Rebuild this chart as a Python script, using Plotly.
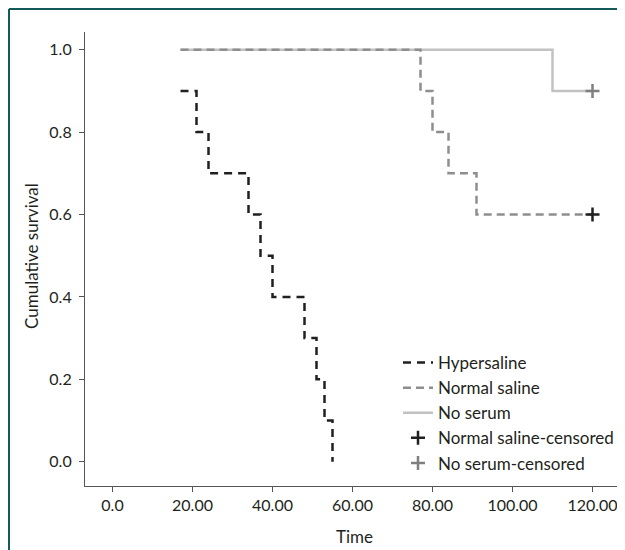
import plotly.graph_objects as go

# ---- data ----
hyper_time = [17, 21, 24, 34, 37, 40, 48, 51, 53, 55]
hyper_surv = [0.9, 0.8, 0.7, 0.6, 0.5, 0.4, 0.3, 0.2, 0.1, 0.0]

normal_time = [17, 77, 80, 84, 91, 120]
normal_surv = [1.0, 0.9, 0.8, 0.7, 0.6, 0.6]

noserum_time = [17, 110, 120]
noserum_surv = [1.0, 0.9, 0.9]

normal_cens_time = [120]
normal_cens_surv = [0.6]
noserum_cens_time = [120]
noserum_cens_surv = [0.9]

x_tickvals = [0, 20, 40, 60, 80, 100, 120]
x_ticktext = ["0.0", "20.00", "40.00", "60.00", "80.00", "100.00", "120.00"]
y_tickvals = [0.0, 0.2, 0.4, 0.6, 0.8, 1.0]
y_ticktext = ["0.0", "0.2", "0.4", "0.6", "0.8", "1.0"]

FONT = "Lato"
TXT = "#231f20"

OFF = 8  # default page body margin
PAGE_W, PAGE_H = 625, 550
W, H = PAGE_W - OFF, PAGE_H - OFF
# plot area in page pixels
P_LEFT, P_RIGHT, P_TOP, P_BOTTOM = 85, PAGE_W, 32, 486
ML, MR, MT, MB = P_LEFT - OFF, 0, P_TOP - OFF, H - (P_BOTTOM - OFF)


def px_x(px):  # page px -> paper
    return (px - P_LEFT) / (P_RIGHT - P_LEFT)


def px_y(py):
    return (P_BOTTOM - py) / (P_BOTTOM - P_TOP)


fig = go.Figure()

fig.add_trace(go.Scatter(
    x=noserum_time, y=noserum_surv, mode="lines", line_shape="hv",
    name="No serum", legendrank=3,
    line=dict(color="#c2c2c2", width=2.5)))

fig.add_trace(go.Scatter(
    x=normal_time, y=normal_surv, mode="lines", line_shape="hv",
    name="Normal saline", legendrank=2,
    line=dict(color="#8e8e8e", width=2.5, dash="8px,5px")))

fig.add_trace(go.Scatter(
    x=hyper_time, y=hyper_surv, mode="lines", line_shape="hv",
    name="Hypersaline", legendrank=1,
    line=dict(color=TXT, width=2.5, dash="8px,6px")))

fig.add_trace(go.Scatter(
    x=normal_cens_time, y=normal_cens_surv, mode="markers",
    name="Normal saline-censored", legendrank=4,
    marker=dict(symbol="cross-thin", size=10, line=dict(color=TXT, width=2.5))))

fig.add_trace(go.Scatter(
    x=noserum_cens_time, y=noserum_cens_surv, mode="markers",
    name="No serum-censored", legendrank=5,
    marker=dict(symbol="cross-thin", size=10, line=dict(color="#7f7f7f", width=2.5))))

# x: 0 at page px 112.5, 4 px per unit ; y: 0 at page px 461.7, 412 px per unit
fig.update_layout(
    width=W, height=H,
    margin=dict(l=ML, r=MR, t=MT, b=MB, pad=0),
    paper_bgcolor="white", plot_bgcolor="white",
    font=dict(family=FONT, size=16, color=TXT),
    showlegend=True,
    legend=dict(x=px_x(398), y=px_y(345), xanchor="left", yanchor="top",
                bgcolor="rgba(0,0,0,0)", font=dict(size=17, family=FONT, color=TXT),
                tracegroupgap=0),
    xaxis=dict(range=[(P_LEFT - 112.5) / 4.0, (P_RIGHT - 112.5) / 4.0],
               tickvals=x_tickvals, ticktext=x_ticktext,
               showgrid=False, zeroline=False, showline=True,
               linecolor="#555555", linewidth=1.2,
               ticks="outside", ticklen=5, tickcolor="#555555",
               tickfont=dict(size=16, family=FONT, color=TXT)),
    yaxis=dict(range=[(461.7 - P_BOTTOM) / 412, (461.7 - P_TOP) / 412],
               tickvals=y_tickvals, ticktext=y_ticktext,
               showgrid=False, zeroline=False, showline=True,
               linecolor="#555555", linewidth=1.2,
               ticks="outside", ticklen=5, tickcolor="#555555",
               ticklabelstandoff=4,
               tickfont=dict(size=16, family=FONT, color=TXT)),
    annotations=[
        dict(text="Time", x=px_x(354), y=px_y(536), xref="paper", yref="paper",
             xanchor="center", yanchor="middle",
             showarrow=False, font=dict(size=17, family=FONT, color=TXT)),
        dict(text="Cumulative survival", x=px_x(32), y=px_y(256), xref="paper", yref="paper",
             xanchor="center", yanchor="middle",
             showarrow=False, textangle=-90, font=dict(size=17, family=FONT, color=TXT)),
    ],
    shapes=[
        dict(type="line", xref="paper", yref="paper",
             x0=px_x(9), x1=px_x(PAGE_W + 5), y0=px_y(9), y1=px_y(9),
             line=dict(color="#145a5a", width=2)),
        dict(type="line", xref="paper", yref="paper",
             x0=px_x(9), x1=px_x(9), y0=px_y(9), y1=px_y(PAGE_H + 5),
             line=dict(color="#145a5a", width=2)),
    ],
)

fig.write_html("out.html")
